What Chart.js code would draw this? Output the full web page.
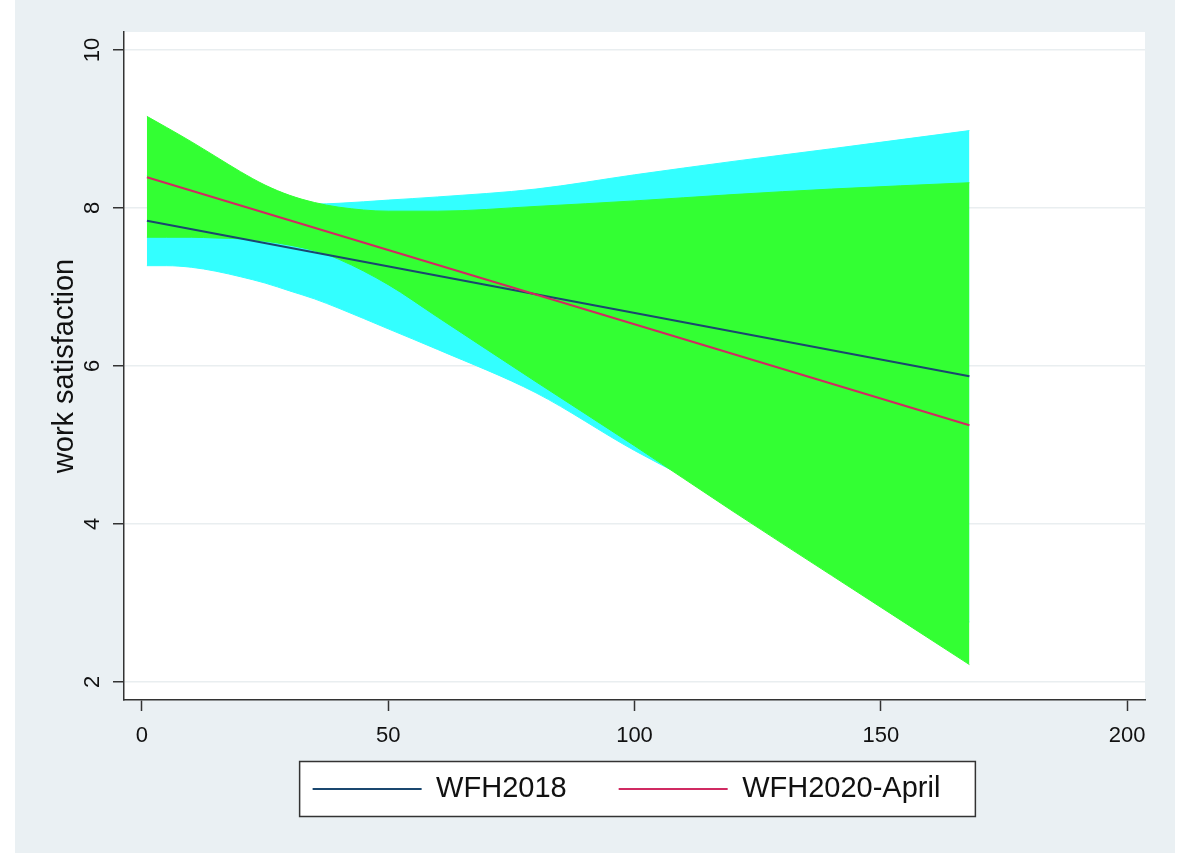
<!DOCTYPE html>
<html>
<head>
<meta charset="utf-8">
<script src="https://cdn.jsdelivr.net/npm/chart.js@4.4.1/dist/chart.umd.min.js"></script>
<style>
  html, body { margin: 0; padding: 0; background: #fff; }
  #wrap { position: absolute; left: 15px; top: 0; width: 1160px; height: 853px; background: #eaf0f3; }
</style>
</head>
<body>
<div id="wrap"><canvas id="chart" width="1160" height="853"></canvas></div>
<script>
// fitted lines (hours vs. work satisfaction)
const fitX = [1, 168];
const fit2018 = [7.84, 5.87];
const fit2020 = [8.39, 5.25];

// confidence bands
const bandX = [1, 5, 10, 15, 20, 25, 30, 35, 40, 50, 60, 80, 100, 120, 140, 168];
const upper2018 = [8.41, 8.31, 8.22, 8.15, 8.11, 8.08, 8.06, 8.05, 8.06, 8.10, 8.14, 8.24, 8.42, 8.59, 8.75, 8.98];
const lower2018 = [7.27, 7.27, 7.25, 7.20, 7.13, 7.05, 6.95, 6.85, 6.73, 6.47, 6.21, 5.66, 4.93, 4.29, 3.66, 2.76];
const upper2020 = [9.16, 9.02, 8.84, 8.65, 8.46, 8.29, 8.16, 8.07, 8.01, 7.96, 7.96, 8.02, 8.09, 8.17, 8.24, 8.32];
const lower2020 = [7.63, 7.63, 7.63, 7.62, 7.61, 7.58, 7.53, 7.46, 7.35, 7.03, 6.62, 5.80, 4.99, 4.16, 3.35, 2.22];

const seriesNames = ['WFH2018', 'WFH2020-April'];
const xTicks = [0, 50, 100, 150, 200];
const yTicks = [2, 4, 6, 8, 10];

const navy = '#1a476f';
const pink = '#d02a62';
const cyan = '#33ffff';
const green = '#33ff33';

function pts(xs, ys) {
    return xs.map((x, i) => ({x: x, y: ys[i]}));
}

Chart.defaults.font.family = "'Liberation Sans', Arial, sans-serif";
Chart.defaults.color = '#111';

// white plot region + framed legend, like the Stata look
const frame = {
    id: 'frame',
    afterLayout(chart) {
        // pull the legend up under the axis labels
        const lg = chart.legend;
        lg.top -= 25.5; lg.bottom -= 25.5;
        lg.left -= 8; lg.right -= 8;
    },
    beforeDraw(chart) {
        const ctx = chart.ctx;
        const a = chart.chartArea;
        ctx.save();
        ctx.fillStyle = '#fff';
        ctx.fillRect(a.left, a.top, a.right - a.left, a.bottom - a.top);
        const hb = chart.legend.legendHitBoxes;
        if (hb && hb.length) {
            const first = hb[0], last = hb[hb.length - 1];
            const x0 = first.left - 13, x1 = last.left + last.width + 35;
            const y0 = first.top - 13, y1 = first.top + first.height + 13;
            ctx.fillRect(x0, y0, x1 - x0, y1 - y0);
            ctx.strokeStyle = '#333';
            ctx.lineWidth = 1.5;
            ctx.strokeRect(x0, y0, x1 - x0, y1 - y0);
        }
        ctx.restore();
    }
};

const lineOpts = {pointRadius: 0, borderWidth: 2, pointBorderWidth: 2, fill: false};
const bandOpts = {pointRadius: 0, borderWidth: 1, cubicInterpolationMode: 'monotone'};

new Chart(document.getElementById('chart'), {
    type: 'line',
    data: {
        datasets: [
            Object.assign({label: seriesNames[0], data: pts(fitX, fit2018), borderColor: navy, pointBorderColor: navy, order: 1}, lineOpts),
            Object.assign({label: seriesNames[1], data: pts(fitX, fit2020), borderColor: pink, pointBorderColor: pink, order: 0}, lineOpts),
            Object.assign({label: 'ci2020 upper', data: pts(bandX, upper2020), borderColor: green, backgroundColor: green, fill: '+1', order: 2}, bandOpts),
            Object.assign({label: 'ci2020 lower', data: pts(bandX, lower2020), borderColor: green, fill: false, order: 3}, bandOpts),
            Object.assign({label: 'ci2018 upper', data: pts(bandX, upper2018), borderColor: cyan, backgroundColor: cyan, fill: '+1', order: 4}, bandOpts),
            Object.assign({label: 'ci2018 lower', data: pts(bandX, lower2018), borderColor: cyan, fill: false, order: 5}, bandOpts)
        ]
    },
    options: {
        responsive: false,
        animation: false,
        layout: {padding: {left: 0, top: 32, right: 30, bottom: 14}},
        plugins: {
            tooltip: {enabled: false},
            legend: {
                position: 'bottom',
                fullSize: false,
                labels: {
                    usePointStyle: true,
                    pointStyle: 'line',
                    pointStyleWidth: 109,
                    padding: 52,
                    color: '#111',
                    font: {size: 29},
                    filter: item => item.datasetIndex < 2,
                    sort: (a, b) => a.datasetIndex - b.datasetIndex
                }
            }
        },
        scales: {
            x: {
                type: 'linear',
                min: -3.65,
                max: 203.65,
                afterFit: s => { s.height = 48; },
                afterBuildTicks: s => { s.ticks = xTicks.map(v => ({value: v})); },
                grid: {drawOnChartArea: false, tickLength: 11, tickColor: '#333', tickWidth: 1.5},
                border: {color: '#333', width: 1.5},
                ticks: {autoSkip: false, maxRotation: 0, padding: 12, color: '#111', font: {size: 22}}
            },
            y: {
                type: 'linear',
                min: 1.772,
                max: 10.228,
                afterFit: s => { s.width = 109; },
                afterBuildTicks: s => { s.ticks = yTicks.map(v => ({value: v})); },
                grid: {color: '#e9eef0', lineWidth: 1.5, tickLength: 11, tickColor: '#333', tickWidth: 1.5},
                border: {color: '#333', width: 1.5},
                ticks: {autoSkip: false, minRotation: 90, maxRotation: 90, crossAlign: 'center', padding: 8, color: '#111', font: {size: 22}},
                title: {display: true, text: 'work satisfaction', color: '#111', font: {size: 29}, padding: {top: 33, bottom: 0}}
            }
        }
    },
    plugins: [frame]
});
</script>
</body>
</html>
